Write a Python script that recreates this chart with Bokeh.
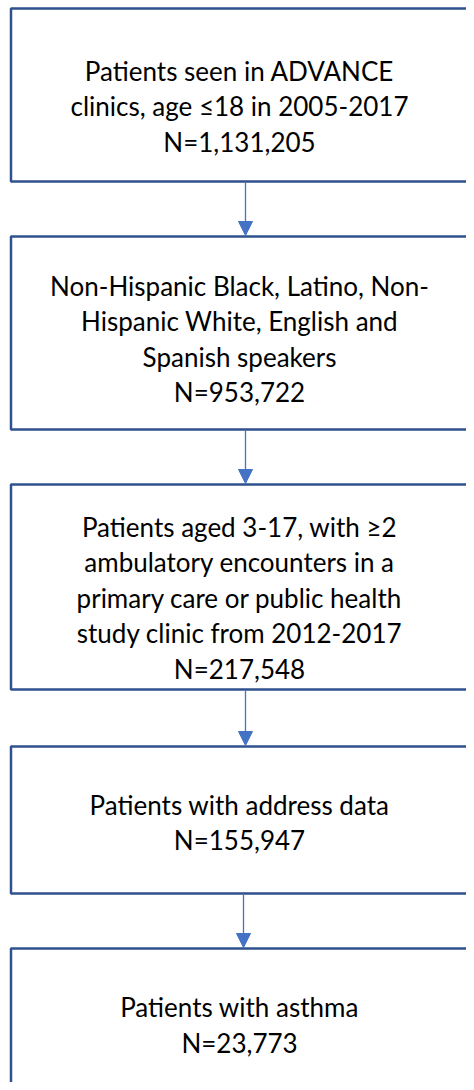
from bokeh.plotting import figure
from bokeh.models import Range1d, Arrow, NormalHead, ColumnDataSource
from bokeh.core.properties import value
from bokeh.embed import file_html
from bokeh.resources import INLINE

# Flowchart content
step_lines = [
    ["Patients seen in ADVANCE", "clinics, age \u226418 in 2005-2017", "N=1,131,205"],
    ["Non-Hispanic Black, Latino, Non-", "Hispanic White, English and", "Spanish speakers", "N=953,722"],
    ["Patients aged 3-17, with \u22652", "ambulatory encounters in a", "primary care or public health",
     "study clinic from 2012-2017", "N=217,548"],
    ["Patients with address data", "N=155,947"],
    ["Patients with asthma", "N=23,773"],
]

# Layout (pixel coordinates)
box_top = [8, 236, 484, 746, 948]
box_bottom = [181, 429, 689, 893, 1120]
box_left = 10.5
box_right = 500
arrow_x = [245, 245, 245, 243]
text_cx = 239
text_cy = [104.5, 337.5, 596, 821, 1023.5]
line_gap = 35.5

W, H = 466, 1082
p = figure(width=W, height=H, output_backend="svg", toolbar_location=None,
           x_range=Range1d(0, W), y_range=Range1d(H, 0),
           min_border=0, outline_line_color=None)
p.axis.visible = False
p.grid.visible = False
p.background_fill_color = "white"
p.border_fill_color = "white"

p.quad(left=[box_left] * 5, right=[box_right] * 5, top=box_top, bottom=box_bottom,
       fill_color="white", line_color="#2F528F", line_width=2.5)

xs, ys, txt = [], [], []
for i, lines in enumerate(step_lines):
    n = len(lines)
    for j, t in enumerate(lines):
        xs.append(text_cx)
        ys.append(text_cy[i] + 1 + (j - (n - 1) / 2) * line_gap)
        txt.append(t)
src = ColumnDataSource(dict(x=xs, y=ys, t=txt))
p.text(x="x", y="y", text="t", source=src, text_align="center", text_baseline="middle",
       text_font=value("Lato"), text_font_size="26px", text_color="#000000")

for i in range(4):
    p.add_layout(Arrow(end=NormalHead(size=14, fill_color="#4472C4", line_color="#4472C4"),
                       x_start=arrow_x[i], y_start=box_bottom[i] + 1,
                       x_end=arrow_x[i], y_end=box_top[i + 1] - 1,
                       line_color="#4472C4", line_width=1.3))

open("out.html", "w").write(file_html(p, INLINE))
